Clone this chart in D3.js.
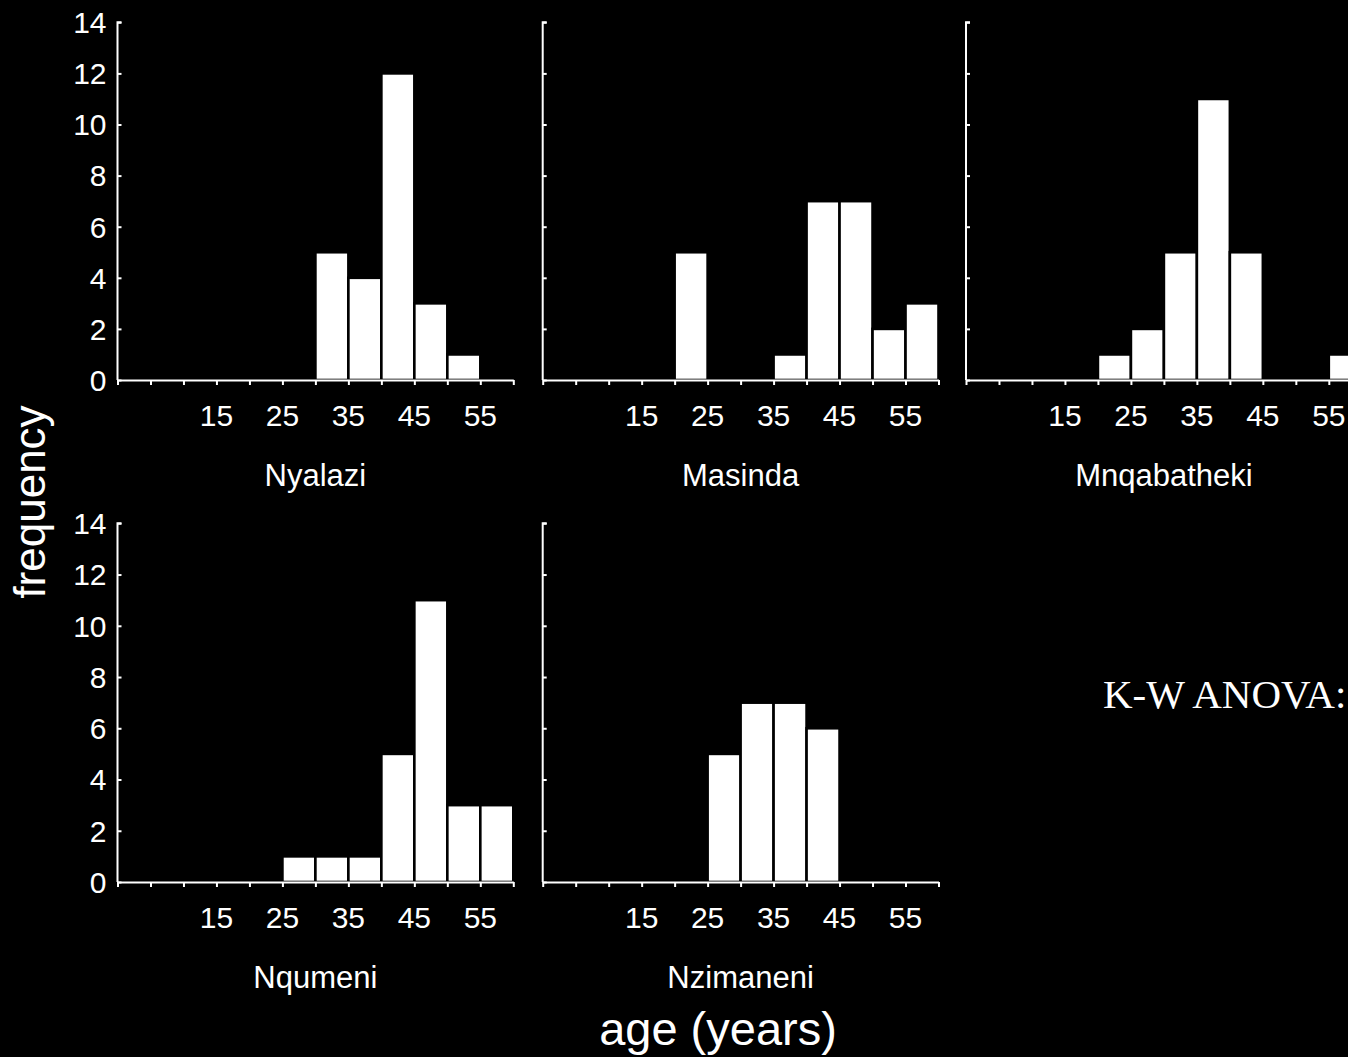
<!DOCTYPE html>
<html>
<head>
<meta charset="utf-8">
<script src="https://cdn.jsdelivr.net/npm/d3@7"></script>
<style>
  html, body { margin: 0; padding: 0; background: #000; }
  svg { display: block; }
</style>
</head>
<body>
<svg id="chart" width="1348" height="1057"></svg>
<script>
// ---- data ----
const binEdges = [0, 5, 10, 15, 20, 25, 30, 35, 40, 45, 50, 55, 60];
const xTickLabels = [15, 25, 35, 45, 55];
const yTicks = [0, 2, 4, 6, 8, 10, 12, 14];
const sites = ["Nyalazi", "Masinda", "Mnqabatheki", "Nqumeni", "Nzimaneni"];
const nyalazi     = [0, 0, 0, 0, 0, 0, 5, 4, 12, 3, 1, 0];
const masinda     = [0, 0, 0, 0, 5, 0, 0, 1, 7, 7, 2, 3];
const mnqabatheki = [0, 0, 0, 0, 1, 2, 5, 11, 5, 0, 0, 1];
const nqumeni     = [0, 0, 0, 0, 0, 1, 1, 1, 5, 11, 3, 3];
const nzimaneni   = [0, 0, 0, 0, 0, 5, 7, 7, 6, 0, 0, 0];
const seriesList = [nyalazi, masinda, mnqabatheki, nqumeni, nzimaneni];
const xTitle = "age (years)";
const yTitle = "frequency";
const note = "K-W ANOVA:";

// ---- layout ----
const svg = d3.select("#chart");
svg.append("rect").attr("width", 1348).attr("height", 1057).attr("fill", "#000");

const colX = [117.5, 542.7, 966];
const panelW = 395.8;
const rowY = [{top: 22.3, bottom: 380}, {top: 523.3, bottom: 882}];
const sans = "'Liberation Sans', Arial, Helvetica, sans-serif";

seriesList.forEach((vals, i) => {
  const col = i % 3, row = Math.floor(i / 3);
  const x = d3.scaleLinear().domain([0, 60]).range([colX[col], colX[col] + panelW]);
  const y = d3.scaleLinear().domain([0, 14]).range([rowY[row].bottom, rowY[row].top]);
  const g = svg.append("g");

  // bars
  g.selectAll("rect.bar")
    .data(vals.map((v, k) => ({v, x0: binEdges[k], x1: binEdges[k + 1]})).filter(d => d.v > 0))
    .enter().append("rect")
    .attr("class", "bar")
    .attr("x", d => x(d.x0))
    .attr("width", d => x(d.x1) - x(d.x0))
    .attr("y", d => y(d.v))
    .attr("height", d => y(0) - y(d.v))
    .attr("fill", "#fff")
    .attr("stroke", "#000")
    .attr("stroke-width", 2.6);

  // y axis (ticks inward)
  const yAxis = d3.axisRight(y).tickValues(yTicks).tickSize(4).tickFormat("");
  const ya = g.append("g").attr("transform", `translate(${x(0)},0)`).call(yAxis);
  ya.select(".domain").attr("stroke", "#fff").attr("stroke-width", 2)
    .attr("d", `M4,${y(14)}H0V${y(0)}`);
  ya.selectAll(".tick line").attr("stroke", "#fff").attr("stroke-width", 2);

  if (col === 0) {
    g.selectAll("text.ylab").data(yTicks).enter().append("text")
      .attr("class", "ylab")
      .attr("x", x(0) - 11)
      .attr("y", d => y(d))
      .attr("dy", "0.36em")
      .attr("text-anchor", "end")
      .attr("fill", "#fff")
      .style("font-family", sans)
      .style("font-size", "30px")
      .text(d => d);
  }

  // x axis (ticks outward)
  const xAxis = d3.axisBottom(x).tickValues(binEdges).tickSize(5).tickSizeOuter(0).tickFormat("");
  const xa = g.append("g").attr("transform", `translate(0,${y(0)})`).call(xAxis);
  xa.select(".domain").attr("stroke", "#fff").attr("stroke-width", 2);
  xa.selectAll(".tick line").attr("stroke", "#fff").attr("stroke-width", 2);

  g.selectAll("text.xlab").data(xTickLabels).enter().append("text")
    .attr("class", "xlab")
    .attr("x", d => x(d))
    .attr("y", y(0) + 46)
    .attr("text-anchor", "middle")
    .attr("fill", "#fff")
    .style("font-family", sans)
    .style("font-size", "30px")
    .text(d => d);

  g.append("text")
    .attr("x", (x(0) + x(60)) / 2)
    .attr("y", y(0) + 106)
    .attr("text-anchor", "middle")
    .attr("fill", "#fff")
    .style("font-family", sans)
    .style("font-size", "31px")
    .text(sites[i]);
});

// axis titles
svg.append("text")
  .attr("transform", "translate(45,502) rotate(-90)")
  .attr("text-anchor", "middle")
  .attr("fill", "#fff")
  .style("font-family", sans)
  .style("font-size", "44px")
  .text(yTitle);

svg.append("text")
  .attr("x", 718)
  .attr("y", 1045)
  .attr("text-anchor", "middle")
  .attr("fill", "#fff")
  .style("font-family", sans)
  .style("font-size", "47px")
  .text(xTitle);

svg.append("text")
  .attr("x", 1103)
  .attr("y", 708)
  .attr("fill", "#fff")
  .style("font-family", "'Liberation Serif', 'Times New Roman', serif")
  .style("font-size", "41px")
  .text(note);
</script>
</body>
</html>
